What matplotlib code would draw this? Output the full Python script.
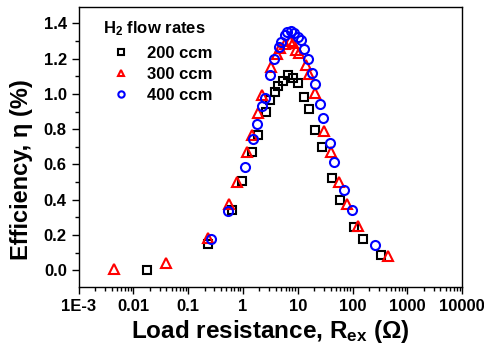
import numpy as np
import matplotlib
matplotlib.use('Agg')
from matplotlib import pyplot as plt
from matplotlib.ticker import FixedLocator, LogLocator, NullFormatter, MultipleLocator

plt.rcParams['font.family'] = ['Liberation Sans', 'DejaVu Sans']
plt.rcParams['font.weight'] = 'bold'
plt.rcParams['mathtext.fontset'] = 'custom'
plt.rcParams['mathtext.rm'] = 'Liberation Sans:bold'
plt.rcParams['mathtext.bf'] = 'Liberation Sans:bold'
plt.rcParams['mathtext.it'] = 'Liberation Sans:bold'

# 200 ccm
r200 = [0.018, 0.23, 0.62, 0.97, 1.49, 1.9, 2.6, 3.1, 3.8, 4.4, 5.4, 6.6, 8.2, 10.1,
        13.2, 15.7, 20.7, 27.3, 41.6, 60, 104, 154, 332]
e200 = [0.0, 0.146, 0.34, 0.505, 0.67, 0.764, 0.897, 0.963, 1.01, 1.044, 1.073, 1.105,
        1.092, 1.063, 0.982, 0.912, 0.793, 0.698, 0.52, 0.398, 0.244, 0.178, 0.087]

# 300 ccm
r300 = [0.0045, 0.04, 0.23, 0.55, 0.79, 1.19, 1.44, 1.9, 2.2, 3.2, 4.1, 4.8, 5.9, 7.2,
        8.2, 9.2, 10.5, 13.9, 15.7, 20.7, 30.5, 40, 57, 80, 128, 452]
e300 = [0.008, 0.038, 0.184, 0.373, 0.5, 0.67, 0.764, 0.893, 0.991, 1.153, 1.224, 1.258,
        1.281, 1.3, 1.29, 1.248, 1.23, 1.163, 1.111, 1.007, 0.789, 0.672, 0.5, 0.378,
        0.248, 0.083]

# 400 ccm
r400 = [0.26, 0.53, 1.08, 1.5, 1.77, 2.19, 2.52, 3.1, 3.7, 4.5, 5.0, 5.8, 6.4, 7.5, 8.6,
        10.2, 11.4, 13.2, 15.2, 18, 20.7, 25.4, 29.3, 39, 46.5, 70, 99, 258]
e400 = [0.178, 0.335, 0.587, 0.742, 0.83, 0.93, 0.976, 1.109, 1.196, 1.266, 1.294, 1.332,
        1.351, 1.356, 1.347, 1.322, 1.303, 1.257, 1.2, 1.116, 1.054, 0.944, 0.865, 0.719,
        0.615, 0.452, 0.339, 0.142]

xticks = [1e-3, 1e-2, 1e-1, 1, 10, 100, 1000, 10000]
xlabels = ['1E-3', '0.01', '0.1', '1', '10', '100', '1000', '10000']

fig = plt.figure(figsize=(4.85, 3.49), dpi=100)
ax = fig.add_axes([0.162, 0.178, 0.791, 0.803])

ax.plot(r200, e200, 's', ms=5.5, mfc='none', mec='black', mew=1.5, label='200 ccm')
ax.plot(r300, e300, '^', ms=7, mfc='none', mec='red', mew=1.5, label='300 ccm')
ax.plot(r400, e400, 'o', ms=6.5, mfc='none', mec='blue', mew=1.5, label='400 ccm')

ax.set_xscale('log')
ax.set_xlim(1e-3, 1e4)
ax.set_ylim(-0.095, 1.495)
ax.xaxis.set_major_locator(FixedLocator(xticks))
ax.set_xticklabels(xlabels)
ax.xaxis.set_minor_locator(LogLocator(base=10, subs=np.arange(2, 10), numticks=20))
ax.xaxis.set_minor_formatter(NullFormatter())
ax.yaxis.set_major_locator(MultipleLocator(0.2))
ax.yaxis.set_minor_locator(MultipleLocator(0.1))
ax.set_yticks(np.arange(0, 1.41, 0.2))
ax.set_yticklabels(['%.1f' % v for v in np.arange(0, 1.41, 0.2)])

ax.tick_params(which='both', direction='out', top=False, right=False, labelsize=12, width=1)
ax.tick_params(which='major', length=5)
ax.tick_params(which='minor', length=3)
for s in ax.spines.values():
    s.set_linewidth(1)

ax.set_xlabel('Load resistance, R$_{\\mathbf{ex}}$ (\u03a9)', fontsize=17.5, fontweight='bold', labelpad=3)
ax.set_ylabel('Efficiency, \u03b7 (%)', fontsize=17, fontweight='bold')
ax.yaxis.set_label_coords(-0.12, 0.42)

leg = ax.legend(loc='upper left', bbox_to_anchor=(0.035, 0.995), frameon=False,
                title='H$_2$ flow rates', title_fontproperties={'weight': 'bold', 'size': 12},
                prop={'weight': 'bold', 'size': 12}, markerscale=0.7,
                handlelength=2.2, handletextpad=0.45, labelspacing=0.35, borderpad=0.15)
leg._legend_box.align = 'left'
leg._legend_box.sep = 6

fig.savefig('out.png', dpi=100)
